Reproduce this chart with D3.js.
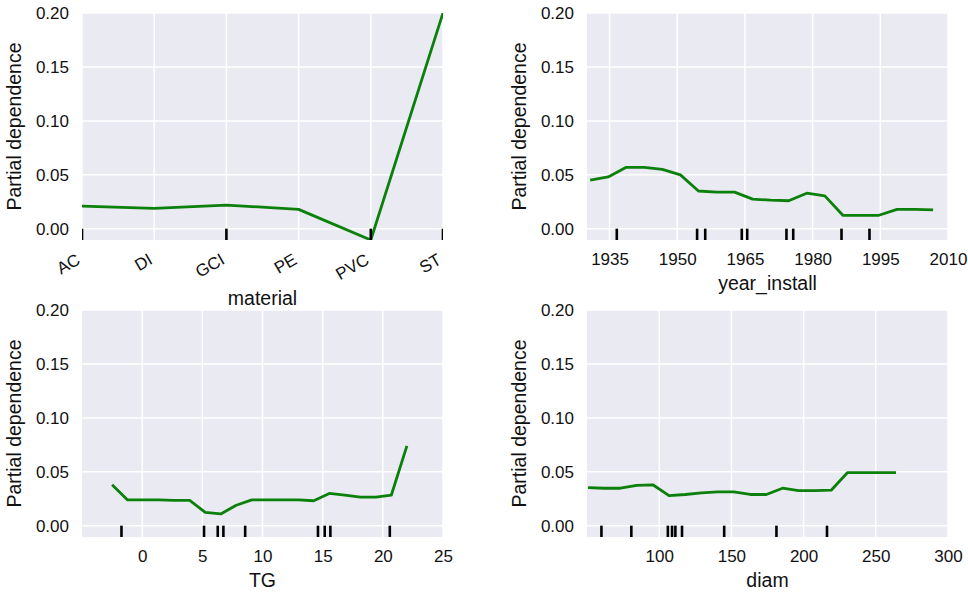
<!DOCTYPE html>
<html>
<head>
<meta charset="utf-8">
<script src="https://cdn.jsdelivr.net/npm/d3@7"></script>
<style>
  body { margin: 0; background: #fff; }
  text { font-family: "Liberation Sans", Arial, sans-serif; fill: #111; }
</style>
</head>
<body>
<div id="chart"></div>
<script>
// Partial dependence values
const materialCats = ['AC', 'DI', 'GCI', 'PE', 'PVC', 'ST']
const materialPD = [0.021, 0.019, 0.022, 0.018, -0.0104, 0.200]
const materialDeciles = ['AC', 'GCI', 'PVC', 'ST']

const yearGrid = [1930.7, 1934.7, 1938.7, 1942.7, 1946.7, 1950.7, 1954.7, 1958.7, 1962.7, 1966.7,
                  1970.7, 1974.7, 1978.7, 1982.7, 1986.7, 1990.7, 1994.7, 1998.7, 2002.7, 2006.7]
const yearPD = [0.045, 0.048, 0.057, 0.057, 0.055, 0.050, 0.035, 0.034, 0.034, 0.0275,
                0.0265, 0.026, 0.033, 0.0305, 0.0125, 0.0125, 0.0125, 0.018, 0.018, 0.0175]
const yearDeciles = [1936.6, 1954.4, 1956.2, 1964.3, 1965.5, 1974.2, 1975.7, 1986.4, 1992.6]
const yearTicks = [1935, 1950, 1965, 1980, 1995, 2010]

const tgGrid = [-2.5, -1.21, 0.08, 1.37, 2.66, 3.95, 5.24, 6.53, 7.82, 9.11,
                10.39, 11.68, 12.97, 14.26, 15.55, 16.84, 18.13, 19.42, 20.71, 22.0]
const tgPD = [0.038, 0.024, 0.024, 0.024, 0.0235, 0.0235, 0.0125, 0.011, 0.019, 0.024,
              0.024, 0.024, 0.024, 0.0232, 0.030, 0.0285, 0.0265, 0.0265, 0.0285, 0.074]
const tgDeciles = [-1.72, 5.14, 6.28, 6.75, 8.56, 14.61, 15.17, 15.64, 20.58]
const tgTicks = [0, 5, 10, 15, 20, 25]

const diamGrid = [50.7, 61.9, 73.2, 84.4, 95.6, 106.8, 118.1, 129.3, 140.5, 151.7,
                  163.0, 174.2, 185.4, 196.6, 207.9, 219.1, 230.3, 241.5, 252.8, 264.0]
const diamPD = [0.0354, 0.0348, 0.0348, 0.0375, 0.038, 0.028, 0.029, 0.0305, 0.0314, 0.0314,
                0.029, 0.029, 0.0348, 0.0326, 0.0326, 0.033, 0.0492, 0.0492, 0.0492, 0.0492]
const diamDeciles = [60, 80.7, 106, 108.9, 111.2, 115.8, 145, 181.2, 216.2]
const diamTicks = [100, 150, 200, 250, 300]

const yTicks = [0, 0.05, 0.10, 0.15, 0.20]
const yDomain = [-0.0104, 0.2]

const width = 968, height = 595
const plotW = 361, plotH = 227
const tickFont = '17px', labelFont = '19.5px'

const svg = d3.select('#chart').append('svg')
    .attr('width', width)
    .attr('height', height)

function styleText(sel, size) {
    sel.style('font-size', size)
        .style('font-family', '"Liberation Sans", Arial, sans-serif')
        .attr('fill', '#111')
}

function panel(cfg) {
    const {left, top, id, xScale, xs, ys, deciles, ticks, label, categorical} = cfg
    const yScale = d3.scaleLinear().domain(yDomain).range([plotH, 0])

    const g = svg.append('g').attr('transform', `translate(${left}, ${top})`)

    g.append('clipPath').attr('id', id)
      .append('rect').attr('width', plotW).attr('height', plotH)

    g.append('rect')
        .attr('width', plotW).attr('height', plotH)
        .attr('fill', '#eaeaf2')

    // grid
    const gridX = categorical ? xScale.domain() : ticks
    g.append('g').selectAll('line').data(gridX).join('line')
        .attr('x1', d => xScale(d)).attr('x2', d => xScale(d))
        .attr('y1', 0).attr('y2', plotH)
        .attr('stroke', '#fff').attr('stroke-width', 1.5)
    g.append('g').selectAll('line').data(yTicks).join('line')
        .attr('x1', 0).attr('x2', plotW)
        .attr('y1', d => yScale(d)).attr('y2', d => yScale(d))
        .attr('stroke', '#fff').attr('stroke-width', 1.5)

    // y axis
    const yAxis = g.append('g')
        .call(d3.axisLeft(yScale).tickValues(yTicks).tickFormat(d3.format('.2f'))
            .tickSize(0).tickPadding(13))
    yAxis.select('.domain').remove()
    yAxis.selectAll('text').call(styleText, tickFont)

    // x axis
    const xAxis = g.append('g').attr('transform', `translate(0, ${plotH})`)
    if (categorical) {
        xAxis.call(d3.axisBottom(xScale).tickSize(0))
        xAxis.selectAll('text')
            .attr('y', 0).attr('dy', null)
            .attr('text-anchor', 'end')
            .attr('transform', 'translate(-1, 23) rotate(-30)')
    } else {
        xAxis.call(d3.axisBottom(xScale).tickValues(ticks).tickFormat(d3.format('d')).tickSize(0))
        xAxis.selectAll('text').attr('y', 25).attr('dy', null)
    }
    xAxis.select('.domain').remove()
    xAxis.selectAll('text').call(styleText, tickFont)

    // axis labels
    g.append('text')
        .attr('x', plotW / 2)
        .attr('y', plotH + (categorical ? 65 : 50))
        .attr('text-anchor', 'middle')
        .style('font-size', labelFont)
        .text(label)
    g.append('text')
        .attr('transform', `translate(${-61}, ${plotH / 2}) rotate(-90)`)
        .attr('text-anchor', 'middle')
        .style('font-size', labelFont)
        .text('Partial dependence')

    const plot = g.append('g').attr('clip-path', `url(#${id})`)

    // partial dependence line
    const line = d3.line()
        .x((d, i) => xScale(xs[i]))
        .y(d => yScale(d))
    plot.append('path')
        .datum(ys)
        .attr('d', line)
        .attr('fill', 'none')
        .attr('stroke', '#0b800b')
        .attr('stroke-width', 2.8)
        .attr('stroke-linejoin', 'round')

    // deciles rug
    plot.append('g').selectAll('line').data(deciles).join('line')
        .attr('x1', d => xScale(d)).attr('x2', d => xScale(d))
        .attr('y1', plotH).attr('y2', plotH - plotH * 0.05)
        .attr('stroke', '#000').attr('stroke-width', 2.6)
}

panel({
    left: 82, top: 13, id: 'clipMat', categorical: true,
    xScale: d3.scalePoint().domain(materialCats).range([0, plotW]),
    xs: materialCats, ys: materialPD, deciles: materialDeciles, label: 'material'
})
panel({
    left: 587, top: 13, id: 'clipYear',
    xScale: d3.scaleLinear().domain([1930, 2010]).range([0, plotW]),
    xs: yearGrid, ys: yearPD, deciles: yearDeciles, ticks: yearTicks, label: 'year_install'
})
panel({
    left: 82, top: 310, id: 'clipTG',
    xScale: d3.scaleLinear().domain([-5, 25]).range([0, plotW]),
    xs: tgGrid, ys: tgPD, deciles: tgDeciles, ticks: tgTicks, label: 'TG'
})
panel({
    left: 587, top: 310, id: 'clipDiam',
    xScale: d3.scaleLinear().domain([50, 300]).range([0, plotW]),
    xs: diamGrid, ys: diamPD, deciles: diamDeciles, ticks: diamTicks, label: 'diam'
})
</script>
</body>
</html>
